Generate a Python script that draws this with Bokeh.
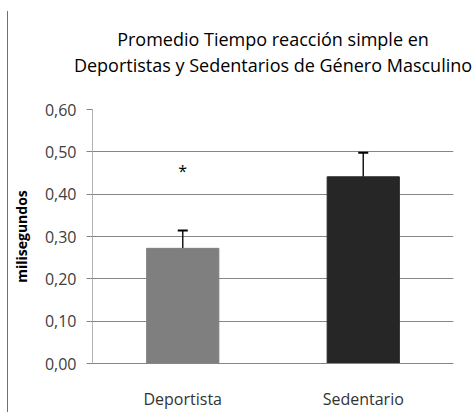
from bokeh.plotting import figure
from bokeh.models import ColumnDataSource, Whisker, Title, FactorRange, Range1d, FixedTicker, CustomJSTickFormatter
from bokeh.core.properties import value
from bokeh.embed import file_html
from bokeh.resources import INLINE

categories = ["Deportista", "Sedentario"]
means = [0.272, 0.441]
errors = [0.042, 0.057]
colors = ["#7f7f7f", "#262626"]
y_ticks = [0.0, 0.1, 0.2, 0.3, 0.4, 0.5, 0.6]
title_lines = ["Promedio Tiempo reacción simple en", "Deportistas y Sedentarios de Género Masculino"]
star_label = "*"
star_y = 0.455

upper = [m + e for m, e in zip(means, errors)]
src = ColumnDataSource(dict(cat=categories, mean=means, upper=upper, color=colors))

p = figure(width=475, height=412, output_backend="svg", toolbar_location=None,
           x_range=FactorRange(*categories, range_padding=0.0), y_range=Range1d(0, 0.6),
           min_border_left=92, min_border_right=22, min_border_top=109, min_border_bottom=47)
p.outline_line_color = None
p.background_fill_color = "white"
p.border_fill_color = None
p.styles = {"background": "linear-gradient(#707070, #707070) 7px 11px / 1px 401px no-repeat, #ffffff"}

p.vbar(x="cat", top="mean", width=0.4, source=src, fill_color="color", line_color="color", line_width=1)
w = Whisker(source=src, base="cat", upper="upper", lower="mean", line_color="#1a1a1a", line_width=1.5)
w.upper_head.size = 10
w.upper_head.line_color = "#000000"
w.upper_head.line_width = 2
w.lower_head = None
p.add_layout(w)

p.text(x=[categories[0]], y=[star_y], text=[star_label], text_align="center", text_baseline="middle",
       text_font=value("Open Sans"), text_font_size="16px", text_color="#000000")

# axes
p.yaxis.ticker = FixedTicker(ticks=y_ticks)
p.yaxis.formatter = CustomJSTickFormatter(code="return tick.toFixed(2).replace('.', ',');")
p.yaxis.axis_line_color = "#b3b3b3"
p.yaxis.major_tick_line_color = "#868686"
p.yaxis.major_tick_out = 6
p.yaxis.major_tick_in = 0
p.yaxis.minor_tick_line_color = None
p.yaxis.major_label_standoff = 10
p.yaxis.major_label_text_font = "Open Sans"
p.yaxis.major_label_text_font_size = "16px"
p.yaxis.major_label_text_color = "#404040"
p.yaxis.axis_label = "milisegundos"
p.yaxis.axis_label_text_font = "Open Sans"
p.yaxis.axis_label_text_font_size = "14px"
p.yaxis.axis_label_text_font_style = "bold"
p.yaxis.axis_label_text_color = "#000000"
p.yaxis.axis_label_standoff = 11

p.xaxis.axis_line_color = "#868686"
p.xaxis.major_tick_line_color = None
p.xaxis.major_label_standoff = 18
p.xaxis.major_label_text_font = "Open Sans"
p.xaxis.major_label_text_font_size = "16px"
p.xaxis.major_label_text_color = "#333333"

p.xgrid.grid_line_color = None
p.ygrid.grid_line_color = "#868686"
p.ygrid.grid_line_width = 1

# spacer between plot area and title, then the two title lines (first added = closest to plot)
p.add_layout(Title(text=" ", text_font_size="1px", standoff=30), "above")
for line in reversed(title_lines):
    p.add_layout(Title(text=line, align="center", text_font="Open Sans", text_font_size="18px",
                       text_font_style="normal", text_color="#000000", standoff=0), "above")

open("out.html", "w").write(file_html(p, INLINE))
